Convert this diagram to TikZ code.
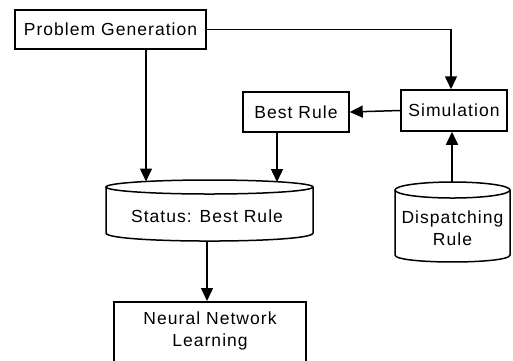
\documentclass[tikz,border=0pt]{standalone}
\usepackage{fontspec}
\setmainfont{Liberation Sans}[LetterSpace=6]
\usetikzlibrary{arrows.meta}
\begin{document}
\begin{tikzpicture}[x=1pt,y=-1pt,
  font=\fontsize{17.5}{22}\selectfont,
  line width=1.5pt,
  >={Triangle[length=13pt,width=12pt]},
  box/.style={draw, rectangle, inner sep=0pt},
  lbl/.style={inner sep=0pt, align=center}]
\useasboundingbox (0,0) rectangle (513,360);
\clip (0,0) rectangle (513,360);
% boxes
\node[box, minimum width=191pt, minimum height=39pt] (pg) at (110.5,29.5) {Problem Generation};
\node[box, minimum width=106pt, minimum height=40pt] (br) at (296,112) {Best Rule};
\node[box, minimum width=106pt, minimum height=41pt] (sim) at (454,110.5) {Simulation};
\node[box, minimum width=192pt, minimum height=80pt, anchor=north] (nn) at (210,301) {};
\node[lbl] (nnt) at (210,331) {Neural Network\\Learning};
% Status cylinder
\draw (209.5,187) ellipse [x radius=103.5, y radius=7];
\draw (106,187) -- (106,233) .. controls (106,243.7) and (313,243.7) .. (313,233) -- (313,187);
\node[lbl] (st) at (207,216) {Status: Best Rule};
\coordinate (stInA) at (146,181.5);
\coordinate (stInB) at (277,182);
\coordinate (stOut) at (207,241);
% Dispatching cylinder
\draw (452.5,190) ellipse [x radius=57.5, y radius=8];
\draw (395,190) -- (395,255) .. controls (395,264.3) and (510,264.3) .. (510,255) -- (510,190);
\node[lbl] (dr) at (452.5,228) {Dispatching\\Rule};
\coordinate (drTop) at (452,182);
% connectors
\draw[->] (pg.east) -| ([xshift=-3pt]sim.north);
\draw[->] (pg.south -| stInA) -- (stInA);
\draw[->] (sim.west) -- (br.east);
\draw[->] (br.south -| stInB) -- (stInB);
\draw[->] (stOut) -- (nn.north -| stOut);
\draw[->] (drTop) -- (sim.south -| drTop);
\end{tikzpicture}
\end{document}
